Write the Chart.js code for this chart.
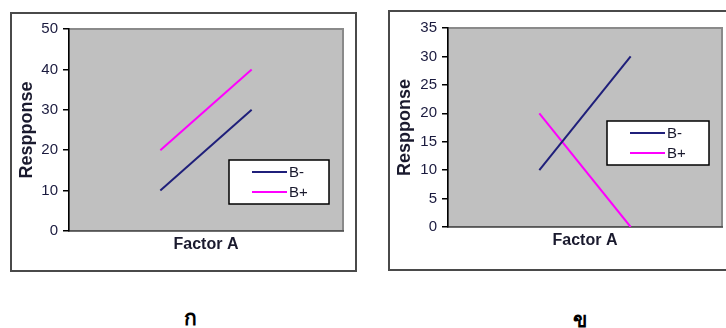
<!DOCTYPE html>
<html>
<head>
<meta charset="utf-8">
<script src="https://cdn.jsdelivr.net/npm/chart.js@4.4.1/dist/chart.umd.min.js"></script>
<style>
  body { margin: 0; background: #fff; width: 726px; height: 328px; overflow: hidden; position: relative; font-family: "Liberation Sans", Arial, sans-serif; }
  .frame { position: absolute; border: 2px solid #4a4a4a; background: #fff; }
  .frame canvas { display: block; }
  .cap { position: absolute; font: bold 21px "Noto Sans", "DejaVu Sans", sans-serif; color: #000; transform: translateX(-50%); }
</style>
</head>
<body>

<div class="frame" id="frameA" style="left:10px; top:12px; width:343px; height:256px;">
  <canvas id="chartA" width="343" height="256"></canvas>
</div>
<div class="frame" id="frameB" style="left:388px; top:10px; width:342px; height:257px;">
  <canvas id="chartB" width="342" height="257"></canvas>
</div>

<div class="cap" style="left:190px; top:301px;">ก</div>
<div class="cap" style="left:580px; top:303px;">ข</div>

<script>
// ================= DATA =================
const factorLevels = [1, 2];          // low / high level of factor A
const seriesNames = ["B-", "B+"];

const leftBMinus = [10, 30];
const leftBPlus = [20, 40];
const leftTicks = [0, 10, 20, 30, 40, 50];

const rightBMinus = [10, 30];
const rightBPlus = [20, 0];
const rightTicks = [0, 5, 10, 15, 20, 25, 30, 35];

const colors = ["#1f1f7a", "#ff00ff"];

// ================= PLUGINS =================
const plotBg = {
    id: "plotBg",
    beforeDraw(chart) {
        const { ctx, chartArea: a } = chart;
        ctx.save();
        ctx.fillStyle = "#c0c0c0";
        ctx.fillRect(a.left, a.top, a.right - a.left, a.bottom - a.top);
        ctx.strokeStyle = "#8a8a8a";
        ctx.lineWidth = 2;
        ctx.strokeRect(a.left, a.top, a.right - a.left, a.bottom - a.top);
        ctx.restore();
    }
};

const boxLegend = {
    id: "boxLegend",
    afterDraw(chart, args, opts) {
        const { ctx } = chart;
        ctx.save();
        ctx.fillStyle = "#fff";
        ctx.fillRect(opts.x, opts.y, opts.w, opts.h);
        ctx.strokeStyle = "#000";
        ctx.lineWidth = 1.5;
        ctx.strokeRect(opts.x, opts.y, opts.w, opts.h);
        ctx.font = "15px 'Liberation Sans', Arial, sans-serif";
        ctx.textBaseline = "middle";
        chart.data.datasets.forEach((ds, i) => {
            const cy = opts.y + 12 + i * 20;
            ctx.strokeStyle = ds.borderColor;
            ctx.lineWidth = 2;
            ctx.beginPath();
            ctx.moveTo(opts.x + 23, cy);
            ctx.lineTo(opts.x + 58, cy);
            ctx.stroke();
            ctx.fillStyle = "#1a1a2e";
            ctx.fillText(ds.label, opts.x + 60, cy + 1);
        });
        ctx.restore();
    }
};

// ================= BUILD =================
function makeChart(id, bMinus, bPlus, ticks, geo) {
    const toPts = vals => factorLevels.map((x, i) => ({ x: x, y: vals[i] }));
    return new Chart(document.getElementById(id), {
        type: "line",
        data: {
            datasets: [
                { label: seriesNames[0], data: toPts(bMinus), borderColor: colors[0], borderWidth: 2, pointRadius: 0, tension: 0 },
                { label: seriesNames[1], data: toPts(bPlus), borderColor: colors[1], borderWidth: 2, pointRadius: 0, tension: 0 }
            ]
        },
        options: {
            responsive: false,
            animation: false,
            layout: { padding: { left: 0, top: geo.top, right: geo.right, bottom: 0 } },
            plugins: {
                legend: { display: false },
                tooltip: { enabled: false },
                boxLegend: geo.legend
            },
            scales: {
                x: {
                    type: "linear",
                    min: 0,
                    max: factorLevels.length + 1,
                    ticks: { display: false },
                    grid: { display: false },
                    border: { display: true, color: "#555", width: 1.5 },
                    title: {
                        display: true,
                        text: "Factor A",
                        color: "#1a1a2e",
                        font: { family: "'Liberation Sans', Arial, sans-serif", size: 16, weight: "bold" },
                        padding: { top: 0, bottom: geo.xTitlePad }
                    },
                    afterFit(s) { s.height = geo.xH; }
                },
                y: {
                    min: ticks[0],
                    max: ticks[ticks.length - 1],
                    afterBuildTicks(s) { s.ticks = ticks.map(v => ({ value: v })); },
                    ticks: {
                        color: "#1a1a3e",
                        padding: 5,
                        font: { family: "'Liberation Sans', Arial, sans-serif", size: 15 }
                    },
                    grid: { drawOnChartArea: false, drawTicks: true, tickLength: 6, color: "#000", lineWidth: 1.5 },
                    border: { display: true, color: "#000", width: 1.5 },
                    title: {
                        display: true,
                        text: "Respponse",
                        color: "#1a1a2e",
                        font: { family: "'Liberation Sans', Arial, sans-serif", size: 18, weight: "bold" },
                        padding: { top: 4, bottom: 0 }
                    },
                    afterFit(s) { s.width = geo.yW; }
                }
            }
        },
        plugins: [plotBg, boxLegend]
    });
}

makeChart("chartA", leftBMinus, leftBPlus, leftTicks, {
    top: 15, right: 12, yW: 57, xH: 39, xTitlePad: 16,
    legend: { x: 217, y: 146, w: 100, h: 44 }
});

makeChart("chartB", rightBMinus, rightBPlus, rightTicks, {
    top: 16, right: 10, yW: 58, xH: 42, xTitlePad: 19,
    legend: { x: 217, y: 109, w: 102, h: 44 }
});
</script>
</body>
</html>
